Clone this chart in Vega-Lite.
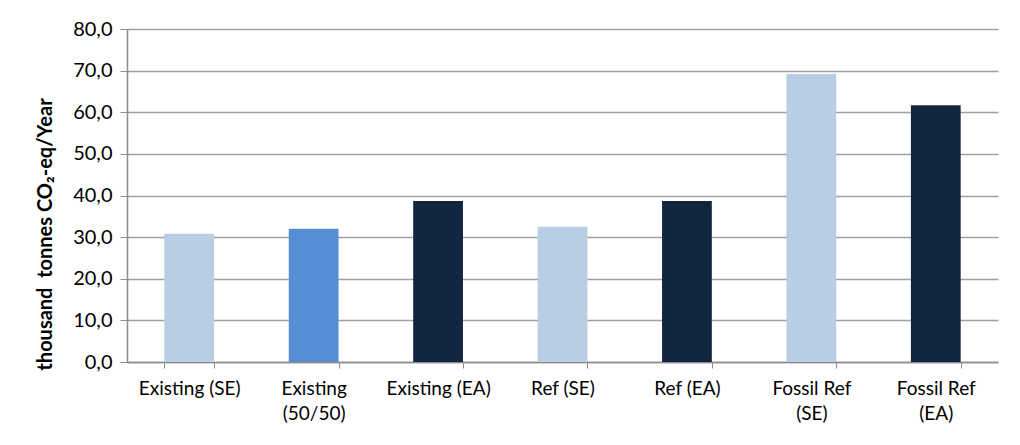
{
  "$schema": "https://vega.github.io/schema/vega-lite/v6.json",
  "autosize": "none",
  "width": 871,
  "height": 333,
  "padding": {"left": 127, "top": 29, "right": 22, "bottom": 83},
  "background": "white",
  "config": {
    "view": {"stroke": null},
    "font": "Lato",
    "axis": {"labelFont": "Lato", "titleFont": "Lato", "labelColor": "#000", "titleColor": "#000"}
  },
  "data": {
    "values": [
      {"scenario": "Existing (SE)", "value": 30.8, "group": "SE"},
      {"scenario": "Existing (50/50)", "value": 32.0, "group": "50/50"},
      {"scenario": "Existing (EA)", "value": 38.7, "group": "EA"},
      {"scenario": "Ref (SE)", "value": 32.5, "group": "SE"},
      {"scenario": "Ref (EA)", "value": 38.7, "group": "EA"},
      {"scenario": "Fossil Ref (SE)", "value": 69.2, "group": "SE"},
      {"scenario": "Fossil Ref (EA)", "value": 61.7, "group": "EA"}
    ]
  },
  "mark": {"type": "bar"},
  "encoding": {
    "x": {
      "field": "scenario",
      "type": "nominal",
      "sort": null,
      "scale": {"paddingInner": 0.6, "paddingOuter": 0.3},
      "axis": {
        "title": null,
        "labelAngle": 0,
        "labelFontSize": 19,
        "labelPadding": 11,
        "labelLineHeight": 25,
        "tickBand": "extent",
        "tickSize": 6,
        "tickColor": "#8c8c8c",
        "domainColor": "#8c8c8c",
        "domainWidth": 1.5,
        "grid": false,
        "labelExpr": "datum.value == 'Existing (50/50)' ? ['Existing', '(50/50)'] : datum.value == 'Fossil Ref (SE)' ? ['Fossil Ref', '(SE)'] : datum.value == 'Fossil Ref (EA)' ? ['Fossil Ref', '(EA)'] : datum.value"
      }
    },
    "y": {
      "field": "value",
      "type": "quantitative",
      "scale": {"domain": [0, 80], "nice": false},
      "axis": {
        "title": "thousand\u00a0 tonnes CO₂-eq/Year",
        "titleFontSize": 20,
        "titleFontWeight": "bold",
        "titleX": -82,
        "titleY": 205,
        "titleBaseline": "middle",
        "titleAlign": "center",
        "titleAngle": -90,
        "values": [0, 10, 20, 30, 40, 50, 60, 70, 80],
        "labelExpr": "replace(format(datum.value, '.1f'), '.', ',')",
        "labelFontSize": 20,
        "labelPadding": 8,
        "tickSize": 7,
        "tickColor": "#8c8c8c",
        "domainColor": "#8c8c8c",
        "domainWidth": 1.5,
        "grid": true,
        "gridColor": "#a0a0a0",
        "gridWidth": 1.5
      }
    },
    "color": {
      "field": "group",
      "type": "nominal",
      "scale": {"domain": ["SE", "50/50", "EA"], "range": ["#B9CDE5", "#558ED5", "#12263F"]},
      "legend": null
    }
  }
}
